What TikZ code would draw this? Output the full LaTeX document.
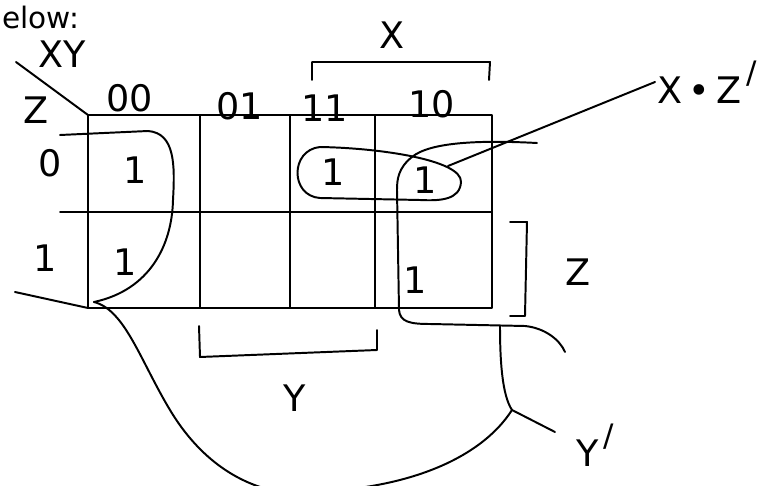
\documentclass[tikz,border=0pt]{standalone}
\usepackage{fontspec}
\setmainfont{DejaVu Sans}
\usetikzlibrary{positioning, calc}

\newcommand{\tick}{\raisebox{0.55em}{\fontsize{22}{22}\selectfont\,/}}

\begin{document}
\begin{tikzpicture}[x=0.025cm, y=-0.025cm, line width=1.4pt, line join=round, line cap=round]
    \tikzstyle{lbl} = [font=\fontsize{26}{28}\selectfont, inner sep=1pt]
    \tikzstyle{one} = [lbl]
    \tikzstyle{group} = [line width=1.4pt]
    \useasboundingbox (0,0) rectangle (784,486);
    \clip (0,0) rectangle (784,486);

    % page text above the map
    \node [lbl, font=\fontsize{21}{22}\selectfont, anchor=base west] (txt) at (0,29) {elow:};

    % the map itself
    \coordinate (nw) at (88,115);
    \coordinate (se) at (492,308);
    \draw (nw) rectangle (se);
    \foreach \cx in {200, 290, 375} {
        \draw (\cx,115) -- (\cx,308);
    }
    \draw (60,212) -- (492,212);
    \draw (15,292) -- (88,308);

    % corner labels
    \coordinate (diag) at (16,62);
    \draw (diag) -- (nw);
    \node [lbl] (xy) at (62,54) {XY};
    \node [lbl] (z) at (36,110) {Z};

    % column and row headings
    \node [lbl] (c00) at (130,98) {00};
    \node [lbl] (c01) at (240,106) {01};
    \node [lbl] (c11) at (325,108) {11};
    \node [lbl] (c10) at (432,104) {10};
    \node [lbl] (r0) at (50,163) {0};
    \node [lbl] (r1) at (45,258) {1};

    % the ones
    \node [one] (m0) at (135,170) {1};
    \node [one] (m6) at (333,172) {1};
    \node [one] (m4) at (425,180) {1};
    \node [one] (m1) at (125,262) {1};
    \node [one] (m5) at (415,280) {1};

    % X bracket
    \coordinate (xa) at (312,80);
    \coordinate (xb) at (489,80);
    \draw (xa) -- (312,62) -- (490,62) -- (xb);
    \node [lbl] (xl) at (392,35) {X};

    % Z bracket
    \coordinate (za) at (510,222);
    \coordinate (zb) at (510,316);
    \draw (za) -- (527,222) -- (525,316) -- (zb);
    \node [lbl] (zl) at (578,272) {Z};

    % Y bracket
    \coordinate (ya) at (199,326);
    \coordinate (yb) at (377,330);
    \draw (ya) -- (200,357) -- (377,350) -- (yb);
    \node [lbl] (yl) at (295,398) {Y};

    % group X.Z'
    \draw [group] (320,147) .. controls (380,148) and (462,160) .. (461,182)
        .. controls (460,200) and (440,201) .. (420,200) -- (320,198)
        .. controls (290,196) and (290,150) .. (320,147);
    \node [lbl, anchor=west] (xz) at (655,82) {X\,•\,Z\tick};
    \draw (448,166) -- (xz.west);

    % group Y', left part
    \draw [group] (60,135) -- (148,131) .. controls (175,133) and (175,165) .. (173,200)
        .. controls (172,245) and (150,290) .. (94,302);
    % group Y', right part
    \draw [group] (537,143) .. controls (480,140) and (430,142) .. (412,157)
        .. controls (398,168) and (397,180) .. (397,190) -- (399,310)
        .. controls (400,322) and (410,324) .. (430,324) -- (525,326)
        .. controls (545,328) and (560,340) .. (565,352);
    \coordinate (join) at (512,410);
    \draw (500,326) .. controls (500,360) and (502,395) .. (join);
    \draw [group] (94,302) .. controls (125,310) and (140,360) .. (170,410)
        .. controls (200,460) and (240,485) .. (280,492)
        .. controls (400,495) and (480,460) .. (join);
    \node [lbl] (yp) at (595,445) {Y\tick};
    \draw (join) -- (555,432);
\end{tikzpicture}
\end{document}
